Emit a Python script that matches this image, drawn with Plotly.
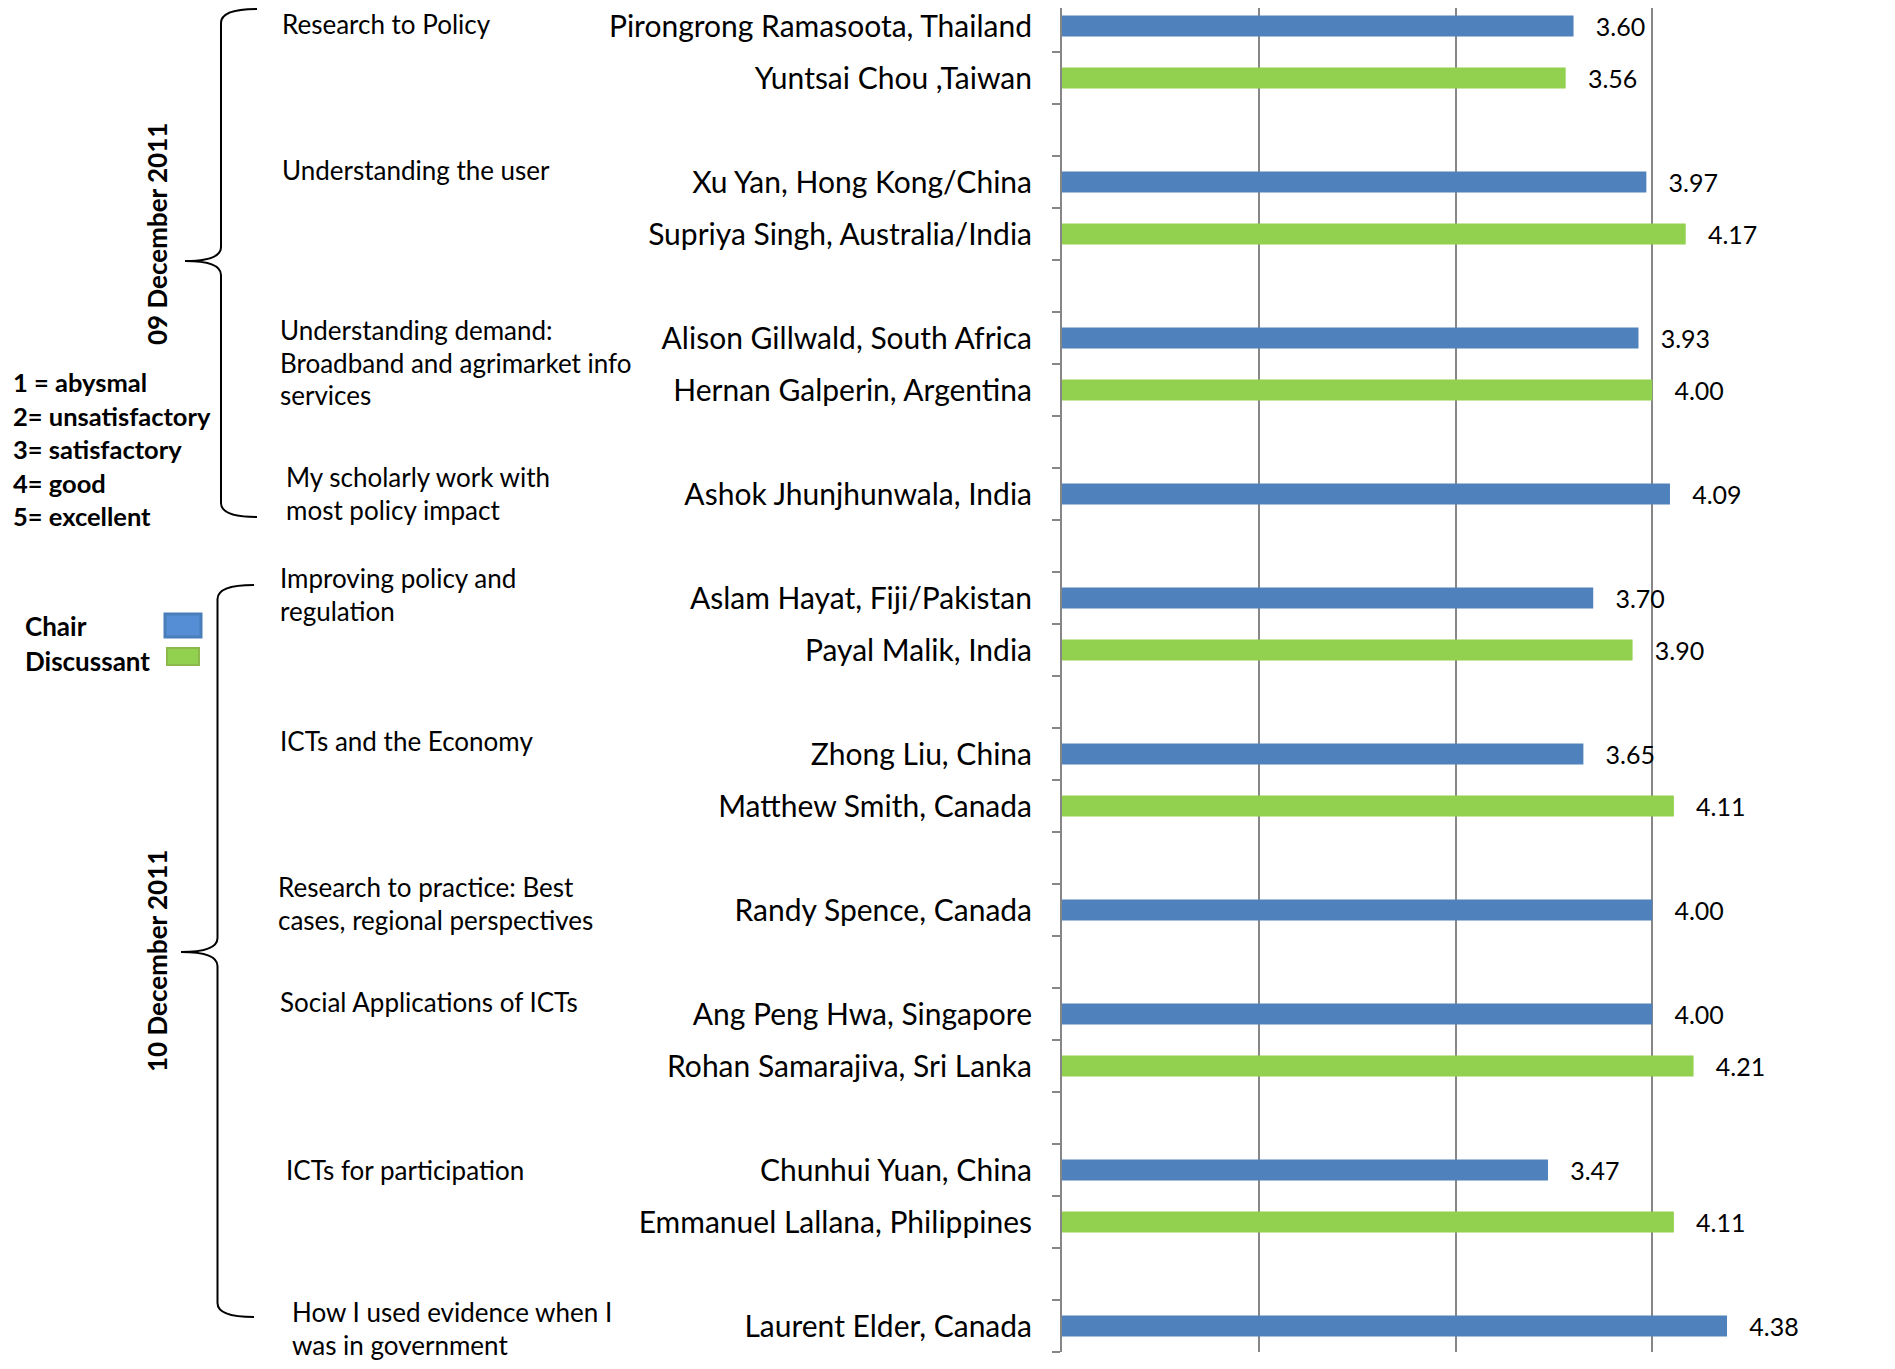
import plotly.graph_objects as go

# ---------------- data ----------------
names = [
    "Pirongrong Ramasoota, Thailand", "Yuntsai Chou ,Taiwan", "",
    "Xu Yan, Hong Kong/China", "Supriya Singh, Australia/India", "",
    "Alison Gillwald, South Africa", "Hernan Galperin, Argentina", "",
    "Ashok Jhunjhunwala, India", "",
    "Aslam Hayat, Fiji/Pakistan", "Payal Malik, India", "",
    "Zhong Liu, China", "Matthew Smith, Canada", "",
    "Randy Spence, Canada", "",
    "Ang Peng Hwa, Singapore", "Rohan Samarajiva, Sri Lanka", "",
    "Chunhui Yuan, China", "Emmanuel Lallana, Philippines", "",
    "Laurent Elder, Canada",
]
roles = [
    "Chair", "Discussant", "",
    "Chair", "Discussant", "",
    "Chair", "Discussant", "",
    "Chair", "",
    "Chair", "Discussant", "",
    "Chair", "Discussant", "",
    "Chair", "",
    "Chair", "Discussant", "",
    "Chair", "Discussant", "",
    "Chair",
]
scores = [
    3.60, 3.56, None,
    3.97, 4.17, None,
    3.93, 4.00, None,
    4.09, None,
    3.70, 3.90, None,
    3.65, 4.11, None,
    4.00, None,
    4.00, 4.21, None,
    3.47, 4.11, None,
    4.38,
]
role_colors = {"Chair": "#4F81BD", "Discussant": "#92D050"}

scale_labels = ["1 = abysmal", "2= unsatisfactory", "3= satisfactory", "4= good", "5= excellent"]
day_labels = ["09 December 2011", "10 December 2011"]
session_lines = [
    ["Research to Policy"],
    ["Understanding the user"],
    ["Understanding demand:", "Broadband and agrimarket info", "services"],
    ["My scholarly work with", "most policy impact"],
    ["Improving policy and", "regulation"],
    ["ICTs and the Economy"],
    ["Research to practice: Best", "cases, regional perspectives"],
    ["Social Applications of ICTs"],
    ["ICTs for participation"],
    ["How I used evidence when I", "was in government"],
]

# ---------------- layout geometry (pixels) ----------------
O = 8                     # page body margin offset
W, H = 1895 - 2 * O, 1369 - 2 * O
PL, PR, PT, PB = 1062 - O, 1849 - O, 0, 1352 - O


def px(x):
    """reference-screen x pixel -> paper coordinate"""
    return (x - O - PL) / (PR - PL)


def py(y):
    """reference-screen y pixel -> paper coordinate"""
    return (PB - (y - O)) / (PB - PT)


FONT = "Lato, 'Open Sans', sans-serif"
GRID = "#868686"

fig = go.Figure()
for role in ("Chair", "Discussant"):
    idx = [i for i, r in enumerate(roles) if r == role]
    fig.add_trace(go.Bar(
        orientation="h",
        y=idx,
        x=[scores[i] for i in idx],
        name=role,
        width=0.40,
        marker=dict(color=role_colors[role], line=dict(width=0)),
        texttemplate="\u00a0\u00a0\u00a0%{x:.2f}",
        textposition="outside",
        textfont=dict(family=FONT, size=25, color="#000000"),
        constraintext="none",
        cliponaxis=False,
    ))

first_row_y = 26.0          # screen y of first row centre
last_row_y = 1325.8         # screen y of last row centre
slot = (last_row_y - first_row_y) / (len(names) - 1)
top_val = -(first_row_y - O) / slot
label_idx = [i for i, n in enumerate(names) if n]
fig.update_yaxes(
    range=[len(names) - 0.5, top_val],
    automargin=False,
    tickmode="array",
    tickvals=label_idx,
    ticktext=[names[i] for i in label_idx],
    ticks="",
    ticklabelstandoff=22,
    ticklabeloverflow="allow",
    tickfont=dict(family=FONT, size=30, color="#000000"),
    showline=True, linecolor=GRID, linewidth=2,
    showgrid=False, zeroline=False,
    minor=dict(tickmode="array", tickvals=[i + 0.5 for i in range(len(names))],
               ticks="outside", ticklen=8, tickcolor=GRID, tickwidth=1.5),
)
fig.update_xaxes(
    range=[1, 5],
    automargin=False,
    tickmode="array", tickvals=[2, 3, 4, 5],
    showticklabels=False, ticks="",
    showgrid=True, gridcolor=GRID, gridwidth=1.5,
    zeroline=False, showline=False,
)

ann = []
shapes = []

# scale legend
for k, t in enumerate(scale_labels):
    yy = 382 + k * 33.6
    ann.append(dict(text=t, x=px(11), y=py(yy), xanchor="left", yanchor="middle",
                    font=dict(family=FONT, size=25.5, color="#000000", weight="bold")))

# chair / discussant legend
ann.append(dict(text="Chair", x=px(23), y=py(626), xanchor="left", yanchor="middle",
                font=dict(family=FONT, size=26, color="#000000", weight="bold")))
ann.append(dict(text="Discussant", x=px(23), y=py(661), xanchor="left", yanchor="middle",
                font=dict(family=FONT, size=26, color="#000000", weight="bold")))
shapes.append(dict(type="rect", xref="paper", yref="paper",
                   x0=px(165), x1=px(201), y0=py(614), y1=py(637),
                   fillcolor="#558ED5", line=dict(color="#4A7EBB", width=3)))
shapes.append(dict(type="rect", xref="paper", yref="paper",
                   x0=px(167), x1=px(199), y0=py(648), y1=py(665),
                   fillcolor="#92D050", line=dict(color="#8DB84E", width=2)))

# day labels (rotated)
for t, yc in zip(day_labels, (234, 961)):
    ann.append(dict(text=t, x=px(157), y=py(yc), xanchor="center", yanchor="middle",
                    textangle=-90,
                    font=dict(family=FONT, size=26, color="#000000", weight="bold")))


def brace(v, y0, y1, xe, xt, ym, r=14):
    pts = [
        f"M{px(xe)},{py(y0)}",
        f"Q{px(v)},{py(y0)} {px(v)},{py(y0 + r)}",
        f"L{px(v)},{py(ym - r)}",
        f"Q{px(v)},{py(ym)} {px(xt)},{py(ym)}",
        f"Q{px(v)},{py(ym)} {px(v)},{py(ym + r)}",
        f"L{px(v)},{py(y1 - r)}",
        f"Q{px(v)},{py(y1)} {px(xe)},{py(y1)}",
    ]
    return dict(type="path", xref="paper", yref="paper", path=" ".join(pts),
                line=dict(color="#000000", width=2))


shapes.append(brace(221, 9, 517, 257, 185, 261))
shapes.append(brace(217.5, 585, 1317, 254, 181, 952))

# session labels (reference-screen pixels: left x, centre y of first line)
session_pos = [
    (280, 24), (280, 170), (278, 330), (284, 477), (278, 578),
    (278, 741), (276, 887), (278, 1002), (284, 1170), (290, 1312),
]
for lines, (x0, y0) in zip(session_lines, session_pos):
    for j, t in enumerate(lines):
        ann.append(dict(text=t, x=px(x0), y=py(y0 + j * 32.5), xanchor="left", yanchor="middle",
                        font=dict(family=FONT, size=26, color="#000000")))

for a in ann:
    a.update(xref="paper", yref="paper", showarrow=False)

fig.update_layout(
    width=W, height=H,
    margin=dict(l=PL, r=W - PR, t=PT, b=H - PB, pad=0, autoexpand=False),
    plot_bgcolor="#FFFFFF", paper_bgcolor="#FFFFFF",
    showlegend=False, barmode="overlay",
    annotations=ann, shapes=shapes,
)

fig.write_html("out.html")
